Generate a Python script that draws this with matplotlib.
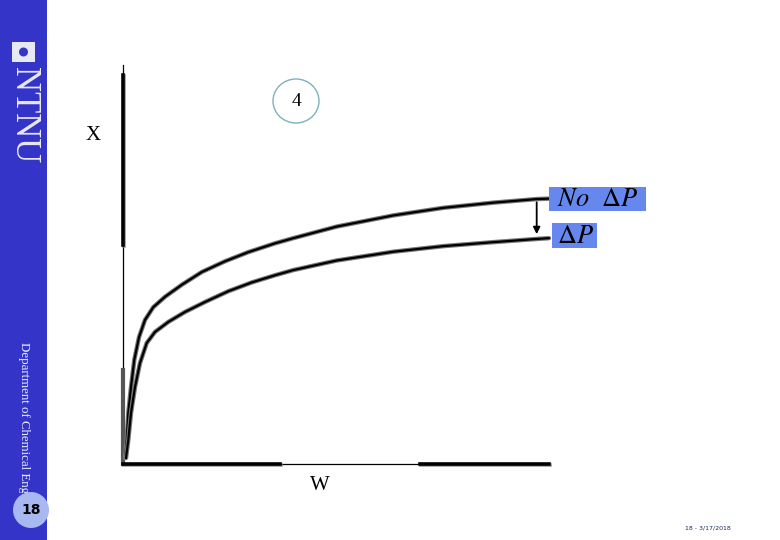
import matplotlib
matplotlib.use("Agg")
import matplotlib.pyplot as plt
from matplotlib.patches import Rectangle, Ellipse
from matplotlib.transforms import Bbox
import matplotlib.patheffects as pe

plt.rcParams['mathtext.fontset'] = 'stix'

# ---- data ----
w_no_dp = [0.047, 0.087, 0.124, 0.188, 0.265, 0.376, 0.516, 0.711, 0.986, 1.378, 1.847,
           2.394, 2.941, 3.568, 3.998, 5.016, 6.345, 7.519, 8.692, 9.711, 10.0]
x_no_dp = [0.15, 0.60, 1.28, 1.93, 2.61, 3.18, 3.61, 3.93, 4.19, 4.49, 4.81,
           5.08, 5.31, 5.53, 5.66, 5.95, 6.23, 6.42, 6.55, 6.64, 6.65]
w_dp = [0.07, 0.124, 0.188, 0.282, 0.399, 0.556, 0.751, 1.063, 1.455, 1.925, 2.472,
        3.021, 3.568, 3.998, 5.016, 6.345, 7.519, 8.692, 9.711, 10.0]
x_dp = [0.15, 0.60, 1.28, 1.93, 2.53, 3.03, 3.31, 3.56, 3.81, 4.06, 4.33,
        4.55, 4.73, 4.86, 5.10, 5.32, 5.46, 5.56, 5.64, 5.66]
labels = [r'$No\ \ \Delta P$', r'$\Delta P$']
x_label, w_label = 'X', 'W'
slide_no = '18'
footer = '18 - 3/17/2018'
dept = 'Department of Chemical Engineering'

W, H = 780, 540
fig = plt.figure(figsize=(7.8, 5.4), dpi=100)
fig.patch.set_facecolor('white')

def fx(px):
    return px / W

def fy(py):
    return 1 - py / H

# sidebar
fig.patches.append(Rectangle((0, 0), fx(47), 1, transform=fig.transFigure,
                             facecolor='#3434C8', edgecolor='none', zorder=0))
# logo square
fig.patches.append(Rectangle((fx(12), fy(62)), fx(23), 20 / H, transform=fig.transFigure,
                             facecolor='#E8E8F4', edgecolor='none', zorder=1))
fig.patches.append(Ellipse((fx(23.5), fy(52)), fx(9), 9 / H, transform=fig.transFigure,
                           facecolor='#3434C8', edgecolor='none', zorder=2))
fig.text(fx(23), fy(115), 'NTNU', rotation=-90, ha='center', va='center',
         color='#E8E8F4', fontsize=25, family='Liberation Serif', zorder=3)
t = fig.text(fx(24), fy(342), dept, rotation=-90, ha='center', va='top',
             color='#F0F0FF', fontsize=9.3, family='Liberation Serif', zorder=3)
t.set_clip_box(Bbox([[0, H - 493], [47, H - 330]]))
t.set_clip_on(True)
fig.patches.append(Ellipse((fx(31), fy(510)), fx(36), 36 / H, transform=fig.transFigure,
                           facecolor='#A8B8F0', edgecolor='none', zorder=4))
fig.text(fx(31), fy(510), slide_no, ha='center', va='center', color='black',
         fontsize=10, fontweight='bold', family='DejaVu Sans', zorder=5)
fig.text(fx(708), fy(528), footer, ha='center', va='center', color='#1a2a5a',
         fontsize=4.5, family='DejaVu Sans')

# main axes
ax = fig.add_axes([fx(123), 76 / H, 426 / W, 399 / H])
ax.set_xlim(0, 10)
ax.set_ylim(0, 10)
ax.axis('off')

ta = ax.transAxes
shadow_v = [pe.SimpleLineShadow(offset=(1, -0.5), shadow_color='gray', alpha=0.8), pe.Normal()]
shadow_h = [pe.SimpleLineShadow(offset=(0.5, -1), shadow_color='gray', alpha=0.8), pe.Normal()]
# y axis
ax.plot([0, 0], [0, 1.0], transform=ta, color='black', lw=0.9, clip_on=False)
ax.plot([0, 0], [0.549, 0.975], transform=ta, color='black', lw=2.6, clip_on=False,
        path_effects=shadow_v)
ax.plot([0, 0], [0, 0.236], transform=ta, color='#555555', lw=3, clip_on=False)
# x axis
ax.plot([0, 1], [0, 0], transform=ta, color='black', lw=0.9, clip_on=False)
ax.plot([0, 0.369], [0, 0], transform=ta, color='black', lw=2.6, clip_on=False,
        path_effects=shadow_h)
ax.plot([0.697, 1], [0, 0], transform=ta, color='black', lw=2.6, clip_on=False,
        path_effects=shadow_h)

eff = [pe.Stroke(linewidth=3.2, foreground='#777777'), pe.Normal()]
for ws, xs in ((w_no_dp, x_no_dp), (w_dp, x_dp)):
    ax.plot(ws, xs, color='black', lw=1.6, path_effects=eff, clip_on=False,
            solid_joinstyle='round', solid_capstyle='round')

# arrow between the curves
ax.annotate('', xy=(w_dp[-2], x_dp[-2] + 0.12), xytext=(w_no_dp[-2], x_no_dp[-2] - 0.08),
            arrowprops=dict(arrowstyle='-|>', color='black', lw=1.3, mutation_scale=10,
                            shrinkA=0, shrinkB=0))

# labels
fig.text(fx(93), fy(135), x_label, ha='center', va='center', fontsize=15,
         family='Liberation Serif')
fig.text(fx(320), fy(485), w_label, ha='center', va='center', fontsize=15,
         family='Liberation Serif')

# circled 4
fig.patches.append(Ellipse((fx(296), fy(101)), fx(46), 44 / H, transform=fig.transFigure,
                           facecolor='white', edgecolor='#7FB0BC', lw=1.0))
fig.text(fx(296), fy(101), '4', ha='center', va='center', fontsize=14,
         family='Liberation Serif')

# legend boxes
fig.patches.append(Rectangle((fx(549), fy(211)), fx(97), 24 / H, transform=fig.transFigure,
                             facecolor='#6688EE', edgecolor='none'))
fig.text(fx(598), fy(199), labels[0], ha='center', va='center', fontsize=19, color='black')
fig.patches.append(Rectangle((fx(552), fy(248)), fx(45), 25 / H, transform=fig.transFigure,
                             facecolor='#6688EE', edgecolor='none'))
fig.text(fx(575), fy(236), labels[1], ha='center', va='center', fontsize=19, color='black')

fig.savefig('out.png', dpi=100)
